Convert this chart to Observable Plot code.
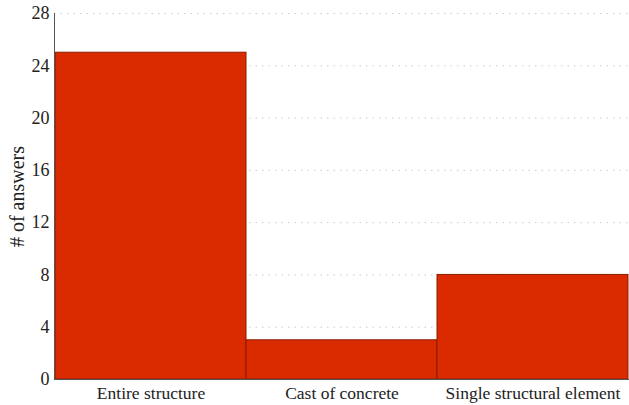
<!DOCTYPE html>
<html><head><meta charset="utf-8">
<script src="https://cdn.jsdelivr.net/npm/d3@7"></script>
<script src="https://cdn.jsdelivr.net/npm/@observablehq/plot@0.6"></script>
<style>
body{margin:0;background:#fff;}
svg text{font-family:'Liberation Serif', 'Times New Roman', serif !important;}
</style>
</head><body><div id="chart"></div>
<script>
const categories = ["Entire structure", "Cast of concrete", "Single structural element"];
const answers = [25, 3, 8];
const yTicks = [0, 4, 8, 12, 16, 20, 24, 28];
const data = categories.map((c, i) => ({category: c, value: answers[i]}));

const chart = Plot.plot({
  width: 629,
  height: 405,
  marginLeft: 54,
  marginRight: 0,
  marginTop: 13,
  marginBottom: 26,
  style: {fontFamily: "'Liberation Serif', serif", background: "#fff", color: "#222"},
  x: {domain: categories, padding: 0, label: null},
  y: {domain: [0, 28], ticks: yTicks, label: null},
  marks: [
    Plot.gridY(yTicks, {stroke: "#ccc", strokeOpacity: 1, strokeDasharray: "1.5,5"}),
    Plot.barY(data, {x: "category", y: "value", fill: "#d92a00", stroke: "#8a1c00", strokeWidth: 1}),
    Plot.axisY(yTicks, {tickSize: 0, tickPadding: 5, fontSize: 18, fill: "#222", fontFamily: "Liberation Serif"}),
    Plot.axisX({tickSize: 0, tickPadding: 7, fontSize: 17.5, fill: "#222", label: null, fontFamily: "Liberation Serif"}),
    Plot.frame({anchor: "left", stroke: "#555"}),
    Plot.ruleY([0], {stroke: "#555"}),
    Plot.text(["# of answers"], {frameAnchor: "left", textAnchor: "middle", dx: -37, rotate: -90, fontSize: 20, fill: "#222"})
  ]
});
document.getElementById("chart").appendChild(chart);
</script>
</body></html>
